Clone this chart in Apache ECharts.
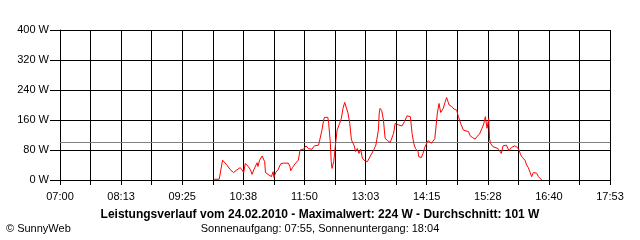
<!DOCTYPE html>
<html>
<head>
<meta charset="utf-8">
<script src="https://cdn.jsdelivr.net/npm/echarts@6/dist/echarts.min.js"></script>
<style>
html,body{margin:0;padding:0;background:#fff;}
#chart{width:640px;height:240px;}
</style>
</head>
<body>
<div id="chart"></div>
<script>
// Tick labels
const xTickLabels = ['07:00','08:13','09:25','10:38','11:50','13:03','14:15','15:28','16:40','17:53'];
const yMax = 400;
const yStep = 80;
const average = 101;

// Series: clock time and power (W)
const times = [
'10:03','10:09','10:13','10:14','10:18','10:22','10:26','10:30','10:34','10:36',
'10:38','10:40','10:43','10:46','10:48','10:50','10:54','10:55','10:57','11:00',
'11:03','11:04','11:07','11:11','11:13','11:14','11:16','11:19','11:22','11:25',
'11:31','11:33','11:34','11:36','11:39','11:43','11:45','11:49','11:52','11:55',
'11:57','11:59','12:02','12:07','12:09','12:11','12:13','12:14','12:18','12:19',
'12:21','12:22','12:23','12:25','12:27','12:29','12:32','12:34','12:36','12:38',
'12:40','12:42','12:44','12:46','12:49','12:51','12:53','12:55','12:57','12:59',
'13:02','13:05','13:08','13:12','13:15','13:18','13:19','13:20','13:22','13:24',
'13:26','13:29','13:32','13:34','13:36','13:38','13:40','13:42','13:46','13:49',
'13:52','13:54','13:56','13:58','14:00','14:02','14:05','14:06','14:09','14:11',
'14:13','14:17','14:18','14:21','14:25','14:26','14:28','14:30','14:32','14:35',
'14:37','14:39','14:40','14:42','14:45','14:48','14:51','14:53','14:56','14:59',
'15:02','15:05','15:07','15:10','15:13','15:15','15:18','15:21','15:23','15:25',
'15:26','15:27','15:29','15:30','15:31','15:34','15:36','15:40','15:42','15:44',
'15:46','15:50','15:51','15:53','15:56','16:00','16:03','16:05','16:07','16:09',
'16:12','16:14','16:16','16:18','16:20','16:22','16:24','16:26','16:28','16:30',
'16:32'
];
const watts = [
2,2,53,58,40,28,20,27,33,27,
20,44,37,28,15,27,46,36,53,64,
49,20,15,9,22,7,20,28,43,45,
45,36,25,33,43,53,80,82,91,84,
89,82,91,93,98,133,160,167,167,151,
98,49,31,49,93,133,151,164,191,207,
204,178,151,107,93,76,84,71,82,58,
51,49,62,78,93,133,178,191,185,160,
111,105,100,96,124,151,156,147,144,156,
171,173,169,124,98,84,76,62,60,71,
87,105,107,98,110,133,178,204,180,191,
206,220,224,200,196,189,186,169,149,133,
131,129,118,113,109,116,122,138,149,169,
171,138,164,111,98,89,87,84,87,71,
91,93,93,78,87,91,87,80,67,60,
53,40,33,35,9,20,24,18,9,4,
0
];

const startMin = 7 * 60;            // 07:00
const endMin = 17 * 60 + 53;        // 17:53
const span = endMin - startMin;
const gridCols = (xTickLabels.length - 1) * 2;
const xStep = span / gridCols;

function toOffset(t) {
  const p = t.split(':');
  return (+p[0]) * 60 + (+p[1]) - startMin;
}
const seriesData = times.map((t, i) => [toOffset(t), watts[i]]);

const font = 'Liberation Sans, Arial, sans-serif';
const chart = echarts.init(document.getElementById('chart'), null, {renderer: 'canvas'});
chart.setOption({
  animation: false,
  backgroundColor: '#ffffff',
  textStyle: {fontFamily: font},
  grid: {left: 60, right: 30, top: 30, bottom: 60, containLabel: false},
  title: [
    {
      text: 'Leistungsverlauf vom 24.02.2010 - Maximalwert: 224 W - Durchschnitt: 101 W',
      left: 'center', top: 209, padding: 0,
      textStyle: {fontFamily: font, fontSize: 12, fontWeight: 'bold', color: '#000'}
    },
    {
      text: 'Sonnenaufgang: 07:55, Sonnenuntergang: 18:04',
      left: 'center', top: 223, padding: 0,
      textStyle: {fontFamily: font, fontSize: 11, fontWeight: 'normal', color: '#000'}
    },
    {
      text: '© SunnyWeb',
      left: 6, top: 223, padding: 0,
      textStyle: {fontFamily: font, fontSize: 11, fontWeight: 'normal', color: '#000'}
    }
  ],
  xAxis: {
    type: 'value',
    min: 0,
    max: span,
    interval: xStep,
    axisLine: {show: true, lineStyle: {color: '#000', width: 1}},
    axisTick: {show: true, length: 5, lineStyle: {color: '#000'}},
    splitLine: {show: true, lineStyle: {color: '#000', width: 1}},
    axisLabel: {
      color: '#000', fontSize: 11, fontFamily: font, margin: 11,
      showMinLabel: true, showMaxLabel: true, hideOverlap: false,
      formatter: function (v) {
        const i = Math.round(v / xStep);
        return i % 2 === 0 ? (xTickLabels[i / 2] || '') : '';
      }
    }
  },
  yAxis: {
    type: 'value',
    min: 0,
    max: yMax,
    interval: yStep,
    axisLine: {show: true, lineStyle: {color: '#000', width: 1}},
    axisTick: {show: true, length: 10, lineStyle: {color: '#000'}},
    splitLine: {show: true, lineStyle: {color: '#000', width: 1}},
    axisLabel: {color: '#000', fontSize: 11, fontFamily: font, margin: 11, formatter: '{value} W'}
  },
  series: [{
    type: 'line',
    data: seriesData,
    showSymbol: false,
    symbol: 'none',
    smooth: false,
    lineStyle: {color: '#ff0000', width: 1},
    z: 3,
    markLine: {
      silent: true,
      symbol: 'none',
      label: {show: false},
      lineStyle: {color: '#808080', width: 1, type: 'solid'},
      data: [{yAxis: average}],
      z: 2
    }
  }]
});
</script>
</body>
</html>
